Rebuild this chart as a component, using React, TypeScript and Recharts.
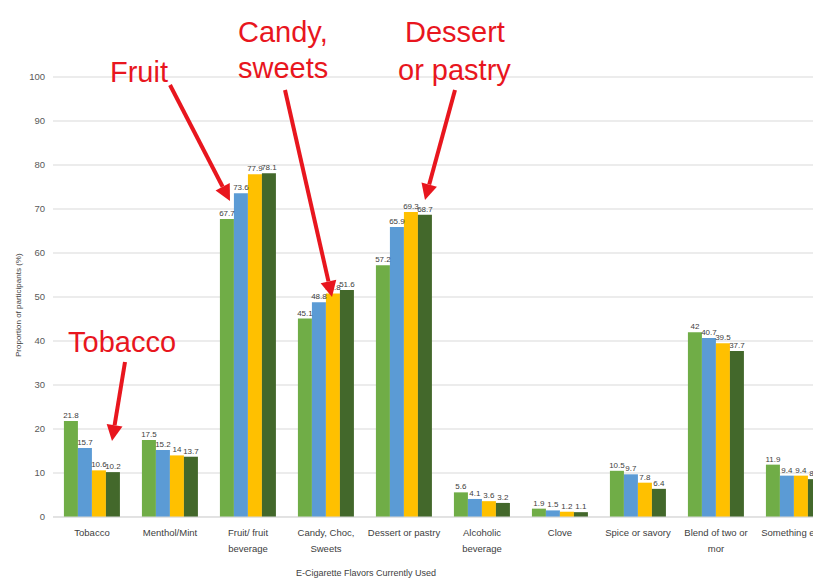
import React from "react";
import { BarChart, Bar, XAxis, YAxis, CartesianGrid, LabelList } from "recharts";

const categories = [
  "Tobacco",
  "Menthol/Mint",
  "Fruit/ fruit beverage",
  "Candy, Choc, Sweets",
  "Dessert or pastry",
  "Alcoholic beverage",
  "Clove",
  "Spice or savory",
  "Blend of two or mor",
  "Something else",
];
const tickLines = [
  ["Tobacco"],
  ["Menthol/Mint"],
  ["Fruit/ fruit", "beverage"],
  ["Candy, Choc,", "Sweets"],
  ["Dessert or pastry"],
  ["Alcoholic", "beverage"],
  ["Clove"],
  ["Spice or savory"],
  ["Blend of two or", "mor"],
  ["Something else"],
];
const series1 = [21.8, 17.5, 67.7, 45.1, 57.2, 5.6, 1.9, 10.5, 42, 11.9];
const series2 = [15.7, 15.2, 73.6, 48.8, 65.9, 4.1, 1.5, 9.7, 40.7, 9.4];
const series3 = [10.6, 14, 77.9, 50.8, 69.3, 3.6, 1.2, 7.8, 39.5, 9.4];
const series4 = [10.2, 13.7, 78.1, 51.6, 68.7, 3.2, 1.1, 6.4, 37.7, 8.6];
const yTicks = [0, 10, 20, 30, 40, 50, 60, 70, 80, 90, 100];

const data = categories.map((c, i) => ({
  name: c,
  s1: series1[i],
  s2: series2[i],
  s3: series3[i],
  s4: series4[i],
}));

const colors = ["#70AD47", "#5B9BD5", "#FFC000", "#43682B"];
const keys = ["s1", "s2", "s3", "s4"];
const RED = "#E8161E";
const FONT = "'Liberation Sans', Arial, sans-serif";

function Arrow({ x1, y1, x2, y2 }: { x1: number; y1: number; x2: number; y2: number }) {
  const ang = Math.atan2(y2 - y1, x2 - x1);
  const len = 16;
  const w = 8;
  const bx = x2 - len * Math.cos(ang);
  const by = y2 - len * Math.sin(ang);
  const px = -Math.sin(ang) * w;
  const py = Math.cos(ang) * w;
  return (
    <g>
      <line x1={x1} y1={y1} x2={bx} y2={by} stroke={RED} strokeWidth={4} />
      <polygon points={`${x2},${y2} ${bx + px},${by + py} ${bx - px},${by - py}`} fill={RED} />
    </g>
  );
}

function XTick(props: any) {
  const { x, y, payload } = props;
  const idx = categories.indexOf(payload.value);
  const lines = idx >= 0 ? tickLines[idx] : [String(payload.value)];
  return (
    <text x={x} y={y + 11} textAnchor="middle" fontSize={9.5} fill="#404040" fontFamily={FONT}>
      {lines.map((l, i) => (
        <tspan key={i} x={x} dy={i === 0 ? 0 : 16}>
          {l}
        </tspan>
      ))}
    </text>
  );
}

export default function App() {
  return (
    <div style={{ position: "relative", width: 850, height: 570, fontFamily: FONT }}>
      <BarChart
        width={850}
        height={570}
        data={data}
        margin={{ top: 69, right: 25, bottom: 0, left: 0 }}
        barCategoryGap="14%"
        barGap={0}
      >
        <CartesianGrid vertical={false} stroke="#D9D9D9" />
        <XAxis
          dataKey="name"
          interval={0}
          height={61}
          tickLine={false}
          axisLine={{ stroke: "#D9D9D9" }}
          tick={<XTick />}
          label={{ value: "E-Cigarette Flavors Currently Used", position: "insideBottom", offset: 2, fontSize: 9, fill: "#404040", dx: -77 }}
        />
        <YAxis
          domain={[0, 100]}
          ticks={yTicks}
          width={45}
          tickLine={false}
          axisLine={false}
          tick={{ fontSize: 9.5, fill: "#595959", fontFamily: FONT }}
          tickMargin={2}
          label={{ value: "Proportion of participants (%)", angle: -90, position: "insideLeft", offset: 10, fontSize: 8, fill: "#404040", dy: 60 }}
        />
        {keys.map((k, i) => (
          <Bar key={k} dataKey={k} fill={colors[i]} isAnimationActive={false}>
            <LabelList dataKey={k} position="top" fontSize={8} fill="#404040" offset={3} />
          </Bar>
        ))}
      </BarChart>
      <svg
        width={850}
        height={570}
        style={{ position: "absolute", left: 0, top: 0, pointerEvents: "none" }}
      >
        <g fontFamily={FONT} fill={RED} fontSize={29}>
          <text x={102} y={74}>Fruit</text>
          <text x={230} y={34}>Candy,</text>
          <text x={230} y={70}>sweets</text>
          <text x={397} y={34}>Dessert</text>
          <text x={390} y={72}>or pastry</text>
          <text x={60} y={344}>Tobacco</text>
        </g>
        <Arrow x1={162} y1={77} x2={222} y2={193} />
        <Arrow x1={277} y1={82} x2={324} y2={289} />
        <Arrow x1={447} y1={82} x2={417} y2={192} />
        <Arrow x1={117} y1={354} x2={104} y2={433} />
      </svg>
    </div>
  );
}
